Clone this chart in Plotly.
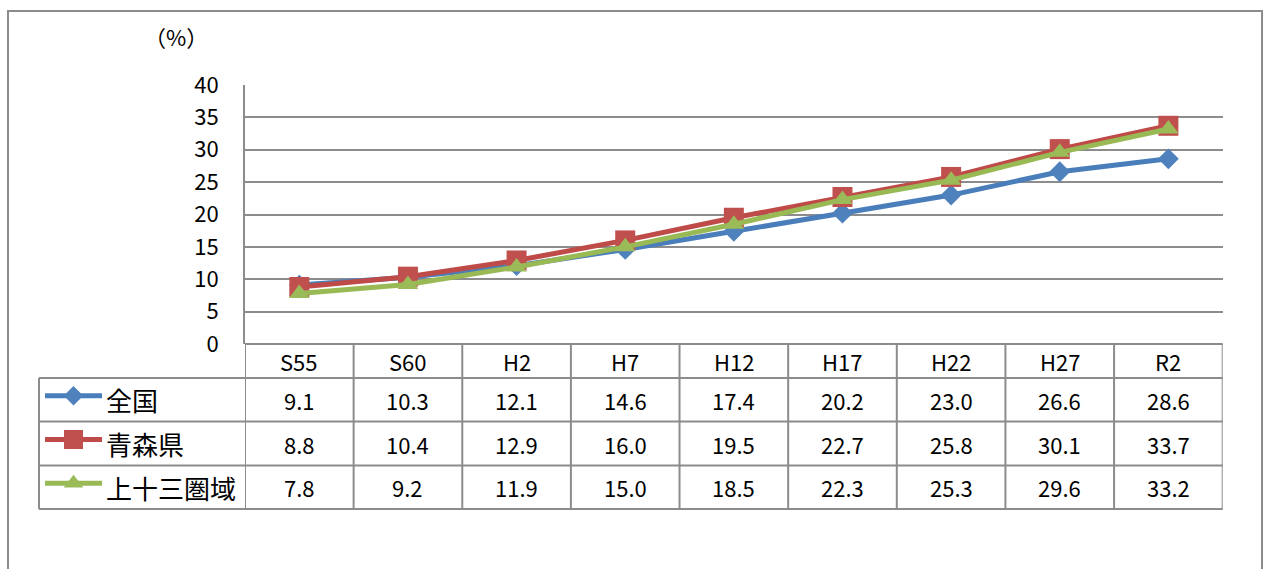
import plotly.graph_objects as go

W, H = 1263, 569

# survey years (x categories / table header)
years = ["S55", "S60", "H2", "H7", "H12", "H17", "H22", "H27", "R2"]

# share of population aged 65+ (%)
zenkoku = [9.1, 10.3, 12.1, 14.6, 17.4, 20.2, 23.0, 26.6, 28.6]
aomori = [8.8, 10.4, 12.9, 16.0, 19.5, 22.7, 25.8, 30.1, 33.7]
kamijusan = [7.8, 9.2, 11.9, 15.0, 18.5, 22.3, 25.3, 29.6, 33.2]

series_names = ["全国", "青森県", "上十三圏域"]
series_values = [zenkoku, aomori, kamijusan]
line_colors = ["#4A7EBB", "#BE4B48", "#98B954"]
marker_colors = ["#4F81BD", "#C0504D", "#9BBB59"]
marker_symbols = ["diamond", "square", "triangle-up"]
marker_sizes = [16, 20, 18]

y_ticks = [0, 5, 10, 15, 20, 25, 30, 35, 40]

FONT = "Noto Sans CJK JP"
GRID = "#8c8c8c"
NUM_SIZE = 22
CJK_SIZE = 26


def px(x):
    return x / W


def py(y):
    return 1 - y / H


# layout geometry (pixels)
PLOT_L, PLOT_R = 245, 1222.7
PLOT_T, PLOT_B = 85, 344
TABLE_L = 39
ROW_EDGES = [344, 378, 421.5, 465.5, 509]

fig = go.Figure()

for name, vals, lc, mc, sym, ms in zip(series_names, series_values, line_colors,
                                        marker_colors, marker_symbols, marker_sizes):
    fig.add_trace(go.Scatter(
        x=years, y=vals, name=name, mode="lines+markers",
        line=dict(color=lc, width=5),
        marker=dict(symbol=sym, size=ms, color=mc, line=dict(width=0)),
        showlegend=False, cliponaxis=False,
    ))

# legend keys inside the data table (overlay axis in pixel units)
for i, (lc, mc, sym, ms) in enumerate(zip(line_colors, marker_colors, marker_symbols, marker_sizes)):
    yc = (ROW_EDGES[i + 1] + ROW_EDGES[i + 2]) / 2 - 4
    fig.add_trace(go.Scatter(
        x=[45, 102], y=[yc, yc], mode="lines", xaxis="x2", yaxis="y2",
        line=dict(color=lc, width=5), showlegend=False, hoverinfo="skip",
    ))
    fig.add_trace(go.Scatter(
        x=[73.5], y=[yc], mode="markers", xaxis="x2", yaxis="y2",
        marker=dict(symbol=sym, size=ms - 1, color=mc, line=dict(width=0)),
        showlegend=False, hoverinfo="skip",
    ))

shapes = []
# outer frame
shapes.append(dict(type="rect", xref="paper", yref="paper",
                   x0=px(8), x1=px(1262), y0=py(600), y1=py(11),
                   line=dict(color=GRID, width=2), fillcolor="rgba(0,0,0,0)", layer="below"))

# table horizontal lines
shapes.append(dict(type="line", xref="paper", yref="paper",
                   x0=px(PLOT_L), x1=px(PLOT_R), y0=py(ROW_EDGES[0]), y1=py(ROW_EDGES[0]),
                   line=dict(color=GRID, width=2)))
for ye in ROW_EDGES[1:]:
    shapes.append(dict(type="line", xref="paper", yref="paper",
                       x0=px(TABLE_L), x1=px(PLOT_R), y0=py(ye), y1=py(ye),
                       line=dict(color=GRID, width=2)))
# table vertical lines
shapes.append(dict(type="line", xref="paper", yref="paper",
                   x0=px(TABLE_L), x1=px(TABLE_L), y0=py(ROW_EDGES[1]), y1=py(ROW_EDGES[-1]),
                   line=dict(color=GRID, width=2)))
for k in range(len(years) + 1):
    xe = k - 0.5
    shapes.append(dict(type="line", xref="x", yref="paper",
                       x0=xe, x1=xe, y0=py(ROW_EDGES[0]), y1=py(ROW_EDGES[-1]),
                       line=dict(color=GRID, width=2)))

annotations = []
# unit label
annotations.append(dict(text="（%）", xref="paper", yref="paper", x=px(176), y=py(36),
                        showarrow=False, font=dict(family=FONT, size=NUM_SIZE, color="#000"),
                        xanchor="center", yanchor="middle"))
# header row (years)
hc = (ROW_EDGES[0] + ROW_EDGES[1]) / 2
for i, yr in enumerate(years):
    annotations.append(dict(text=yr, xref="x", yref="paper", x=i, y=py(hc),
                            showarrow=False, font=dict(family=FONT, size=NUM_SIZE, color="#000"),
                            xanchor="center", yanchor="middle"))
# data rows
for r, (name, vals) in enumerate(zip(series_names, series_values)):
    rc = (ROW_EDGES[r + 1] + ROW_EDGES[r + 2]) / 2
    annotations.append(dict(text=name, xref="paper", yref="paper", x=px(104), y=py(rc),
                            showarrow=False, font=dict(family=FONT, size=CJK_SIZE, color="#000"),
                            xanchor="left", yanchor="middle"))
    for i, v in enumerate(vals):
        annotations.append(dict(text=f"{v:.1f}", xref="x", yref="paper", x=i, y=py(rc),
                                showarrow=False, font=dict(family=FONT, size=NUM_SIZE, color="#000"),
                                xanchor="center", yanchor="middle"))

hidden_axis = dict(domain=[0, 1], visible=False, showticklabels=False, showgrid=False,
                   zeroline=False, ticks="", automargin=False)

fig.update_layout(
    width=W, height=H,
    margin=dict(l=0, r=0, t=0, b=0, pad=0, autoexpand=False),
    paper_bgcolor="white", plot_bgcolor="rgba(0,0,0,0)",
    font=dict(family=FONT, size=NUM_SIZE, color="#000"),
    xaxis=dict(type="category", domain=[px(PLOT_L), px(PLOT_R)], range=[-0.5, 8.5],
               showgrid=False, showticklabels=False, zeroline=False, showline=False,
               automargin=False),
    yaxis=dict(domain=[py(PLOT_B), py(PLOT_T)], range=[0, 40], tickvals=y_ticks,
               showgrid=True, gridcolor=GRID, gridwidth=2, zeroline=False,
               showline=True, linecolor=GRID, linewidth=2,
               ticks="", ticklabelstandoff=20, automargin=False,
               tickfont=dict(family=FONT, size=NUM_SIZE, color="#000")),
    xaxis2=dict(range=[0, W], anchor="y2", **hidden_axis),
    yaxis2=dict(range=[H, 0], anchor="x2", **hidden_axis),
    shapes=shapes,
    annotations=annotations,
    showlegend=False,
)

fig.write_html("out.html")
